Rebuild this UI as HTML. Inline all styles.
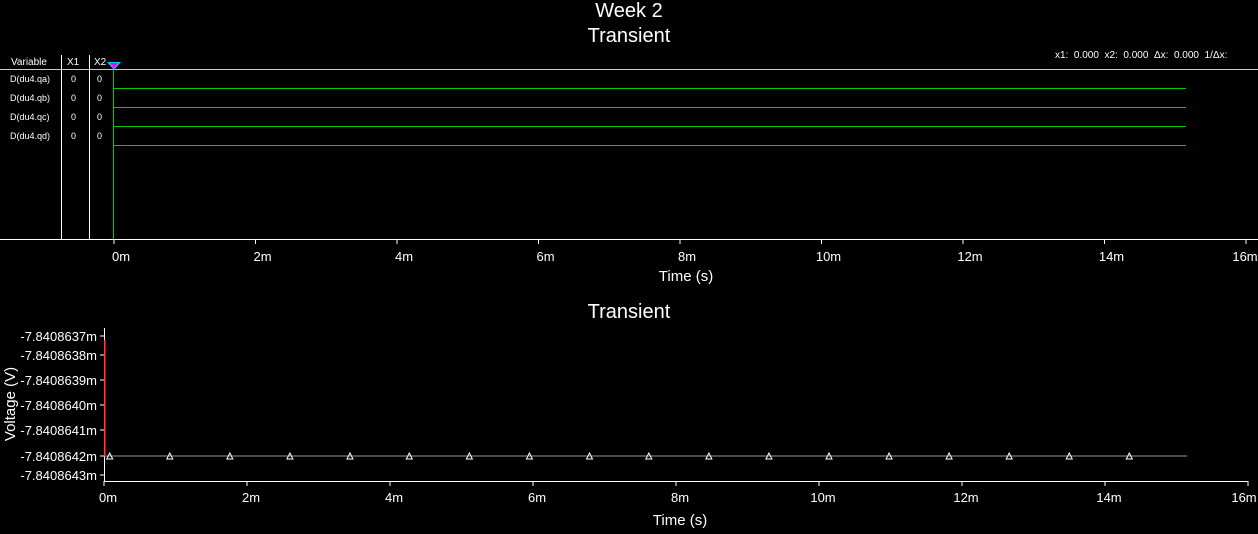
<!DOCTYPE html>
<html><head><meta charset="utf-8"><style>
body{margin:0;background:#000;width:1258px;height:529px;overflow:hidden;font-family:"Liberation Sans",sans-serif}
svg text{fill:#fff;font-family:"Liberation Sans",sans-serif}
</style></head><body>
<svg id="c" width="1258" height="529">
<text x="629" y="17" font-size="20" text-anchor="middle">Week 2</text>
<text x="629" y="42" font-size="20" text-anchor="middle">Transient</text>
<text x="1055" y="58" font-size="10" xml:space="preserve" style="white-space:pre">x1:  0.000  x2:  0.000  Δx:  0.000  1/Δx:</text>
<line x1="0" y1="69.5" x2="1258" y2="69.5" stroke="#ccc"/>
<line x1="61.5" y1="55" x2="61.5" y2="239" stroke="#fff"/>
<line x1="89.5" y1="55" x2="89.5" y2="239" stroke="#fff"/>
<line x1="113.5" y1="69" x2="113.5" y2="239" stroke="#0c0"/>
<polygon points="107,62 121,62 114,70" fill="#0cf"/>
<polygon points="110,63 118,63 114,69" fill="#f0f"/>
<text x="11" y="65" font-size="10">Variable</text>
<text x="67" y="65" font-size="10">X1</text>
<text x="94" y="65" font-size="10">X2</text>
<g id="dig"></g>
<line x1="0" y1="239.5" x2="1258" y2="239.5" stroke="#fff"/>
<g id="tx"></g>
<text x="686" y="281" font-size="15" text-anchor="middle">Time (s)</text>
<text x="629" y="318" font-size="20" text-anchor="middle">Transient</text>
<line x1="104.5" y1="328" x2="104.5" y2="482" stroke="#fff"/>
<line x1="104" y1="481.5" x2="1248" y2="481.5" stroke="#fff"/>
<text transform="translate(15,404) rotate(-90)" font-size="15" text-anchor="middle">Voltage (V)</text>
<text x="680" y="525" font-size="15" text-anchor="middle">Time (s)</text>
<g id="by"></g><g id="bx"></g><g id="tr"></g>
</svg>
<script>
const signals=["D(du4.qa)","D(du4.qb)","D(du4.qc)","D(du4.qd)"];
const x1Vals=[0,0,0,0];
const x2Vals=[0,0,0,0];
const xTicks=[0,2,4,6,8,10,12,14,16];
const yTicks=["-7.8408637m","-7.8408638m","-7.8408639m","-7.8408640m","-7.8408641m","-7.8408642m","-7.8408643m"];
const yTickPos=[0,1,2,3,4,5,6];
const markerTimes=[0.08,0.92,1.76,2.6,3.44,4.27,5.11,5.95,6.79,7.62,8.46,9.3,10.14,10.98,11.82,12.66,13.5,14.34];
const traceEnd=15.15;
const traceVal=5;
const NS="http://www.w3.org/2000/svg";
function mk(p,t,a){const e=document.createElementNS(NS,t);for(const k in a)e.setAttribute(k,a[k]);p.appendChild(e);return e;}
const txS=ms=>114+ms*70.75, bxS=ms=>104+ms*71.5;
const yMap=[336,355,380,405,430,456,475];
const yS=v=>{const i=Math.floor(v),f=v-i;return i>=6?yMap[6]:yMap[i]+(yMap[i+1]-yMap[i])*f;};
const dig=document.getElementById('dig');
signals.forEach((s,i)=>{const y=79+i*19;
let t=mk(dig,'text',{x:10,y:y+3,'font-size':9});t.textContent=s;


t=mk(dig,'text',{x:71,y:y+3,'font-size':9});t.textContent=x1Vals[i];


t=mk(dig,'text',{x:97,y:y+3,'font-size':9});t.textContent=x2Vals[i];


const l=mk(dig,'line',{x1:114,x2:txS(traceEnd),y1:88.5+i*19,y2:88.5+i*19,stroke:'#0c0'});

});
const tx=document.getElementById('tx'),bx=document.getElementById('bx');
xTicks.forEach(v=>{let x=txS(v);
mk(tx,'line',{x1:x,x2:x,y1:239,y2:244,stroke:'#fff'});
let t=mk(tx,'text',{x:Math.min(x+7,1245),y:261,'font-size':13,'text-anchor':'middle'});t.textContent=v+'m';


x=bxS(v);mk(bx,'line',{x1:x,x2:x,y1:481,y2:486,stroke:'#fff'});
t=mk(bx,'text',{x:Math.min(x+4,1244),y:502,'font-size':13,'text-anchor':'middle'});t.textContent=v+'m';

});
const by=document.getElementById('by');
yTicks.forEach((s,i)=>{const y=yS(yTickPos[i]);
mk(by,'line',{x1:100,x2:104,y1:y,y2:y,stroke:'#fff'});
const t=mk(by,'text',{x:97,y:y+5,'font-size':13,'text-anchor':'end'});t.textContent=s;

});
const tr=document.getElementById('tr');const yv=yS(traceVal);
let l=mk(tr,'line',{x1:bxS(0),x2:bxS(traceEnd),y1:yv,y2:yv,stroke:'#999'});


l=mk(tr,'line',{x1:105,x2:105,y1:340,y2:yv,stroke:'#f00','stroke-width':1.5});


markerTimes.forEach(m=>{const x=bxS(m);
const p=mk(tr,'polygon',{points:`${x-3},${yv+3} ${x+3},${yv+3} ${x},${yv-3}`,fill:'none',stroke:'#fff'});

});
</script>
</body></html>
